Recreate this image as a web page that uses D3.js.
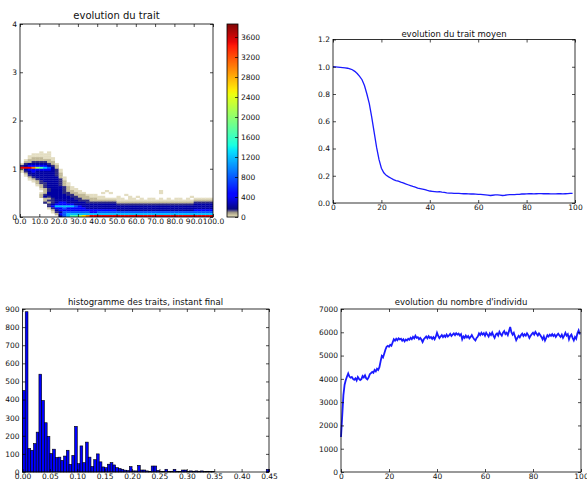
<!DOCTYPE html>
<html>
<head>
<meta charset="utf-8">
<script src="https://cdn.jsdelivr.net/npm/d3@7"></script>
<style>
  html, body { margin: 0; padding: 0; background: #fff; }
  svg text { font-family: "DejaVu Sans", sans-serif; }
</style>
</head>
<body>
<div id="chart"></div>
<script>
// ---- data ----

// heatmap: time bins of 2, trait bins of 0.04, rows listed top (1.32-1.36) to bottom (0-0.04)
const heatTimeStep = 2;
const heatTraitStep = 0.04;
const heatLevels = { a: 15, b: 60, c: 150, d: 240, e: 460, f: 800, g: 1200, h: 1700, i: 2100, j: 2600, k: 3000, l: 3500, m: 3850 };
const heatRows = [
    '.....a.a.. .......... .......... .......... ..........',
    '...aaaaa.. .......... .......... .......... ..........',
    '..aaaaaa.. .......... .......... .......... ..........',
    '..abbbaaa. .......... .......... .......... ..........',
    '.abbbbbba. .......... .......... .......... ..........',
    '.bbccccbb. .......... .......... .......... ..........',
    'acdddddcba .......... .......... .......... ..........',
    'cdeeeeedcb .......... .......... .......... ..........',
    'lllkihgfdb .......... .......... .......... ..........',
    'bdeeeeeedc a......... .......... .......... ..........',
    'acdedddddc a......... .......... .......... ..........',
    '.bdddddddc b......... .......... .......... ..........',
    '.acddddddc b......... .......... .......... ..........',
    '..bcdddddd ba........ .......... .......... ..........',
    '..abcddddd ca........ .......... .......... ..........',
    '...abcdddd cb........ .......... .......... ..........',
    '....bccddd cba....... .......... .......... ..........',
    '....abcddd cba....... .......... .......... ..........',
    '.....bcddd dcba...... .......... .......... ..........',
    '.....abcdd dcbaa..... .......... .......... ..........',
    '......bcdd dcbbaa.... ..a....... ......a... ..........',
    '.....abddd dccbbaa... .a.a...... ......a... ..........',
    '.....bcddd ddccbbbaaa .......a.. .......... ..........',
    '.....bdcdd dddccbbbaa aa...a..a. a......... ....a.....',
    '......bbcd ddddccbbbb aaaaaaa.aa .a.aa.a.a. aa.a.aaaaa',
    '......bccd dddddcccbb bbbbbaaaaa aaaaaaaaaa aaaaabbbbb',
    '......cbcd eedddddccc cccccbbbbb bbbbbbbbbb bbbbbccccc',
    '.......cde eeeedddddd dddddccccc cccccccccc cccccddddd',
    '.......ceg ggggfedddd dddddddddd dddddddddd dddddddddd',
    '.......ace efeeeeeddd dddddddddd dddddddddd dddddddddd',
    '........bd eeeeeeeeee eeeeeddddd dddddddddd dddddeeeee',
    '........ac dfffffffee ffffffffff ffffffffff ffffffffff',
    '.........b efgggggggg gggggggggg gggggggggg gggggggggg',
    '.......... dfghhijkll llllllllll llllllllll llllllllll'
];
const heatTicksX = [0, 10, 20, 30, 40, 50, 60, 70, 80, 90, 100];
const heatTicksY = [0, 1, 2, 3, 4];
const colorbarTicks = [0, 400, 800, 1200, 1600, 2000, 2400, 2800, 3200, 3600];
const colorbarMax = 3860;

// mean trait, one value per time unit (t = 0..99)
const traitStep = 1;
const traitMean = [
    1.000, 0.999, 0.998, 0.996, 0.994, 0.992, 0.989, 0.984, 0.978, 0.966,
    0.950, 0.930, 0.905, 0.862, 0.800, 0.730, 0.630, 0.520, 0.410, 0.320,
    0.255, 0.222, 0.203, 0.192, 0.182, 0.172, 0.165, 0.160, 0.153, 0.148,
    0.140, 0.134, 0.128, 0.122, 0.117, 0.110, 0.106, 0.102, 0.098, 0.092,
    0.088, 0.086, 0.084, 0.082, 0.083, 0.080, 0.078, 0.075, 0.073, 0.072,
    0.071, 0.070, 0.070, 0.069, 0.068, 0.068, 0.067, 0.066, 0.066, 0.065,
    0.064, 0.063, 0.062, 0.060, 0.058, 0.055, 0.057, 0.059, 0.060, 0.058,
    0.055, 0.057, 0.060, 0.061, 0.062, 0.062, 0.063, 0.064, 0.066, 0.066,
    0.067, 0.068, 0.068, 0.067, 0.068, 0.069, 0.069, 0.068, 0.069, 0.068,
    0.067, 0.067, 0.067, 0.068, 0.068, 0.067, 0.068, 0.069, 0.070, 0.071
];
const traitTicksX = [0, 20, 40, 60, 80, 100];
const traitTicksY = [0, 0.2, 0.4, 0.6, 0.8, 1.0, 1.2];

// final trait histogram, bins of 0.005 from 0 to 0.45
const histBinWidth = 0.005;
const histCounts = [
    450, 885, 130, 120, 157, 220, 540, 395, 272, 197,
    102, 126, 80, 82, 64, 88, 120, 42, 92, 252,
    46, 144, 52, 165, 82, 30, 68, 100, 56, 28,
    24, 43, 52, 39, 24, 19, 15, 10, 8, 30,
    6, 6, 37, 11, 11, 6, 4, 33, 33, 9,
    4, 2, 15, 2, 4, 15, 4, 2, 11, 11,
    4, 6, 4, 6, 4, 6, 2, 4, 2, 2,
    0, 0, 0, 0, 0, 0, 0, 0, 0, 0,
    0, 0, 0, 0, 0, 0, 0, 0, 0, 15
];
const histTicksX = [0, 0.05, 0.10, 0.15, 0.20, 0.25, 0.30, 0.35, 0.40, 0.45];
const histTicksY = [0, 100, 200, 300, 400, 500, 600, 700, 800, 900];

// population size, every half time unit (t = 0..99.5)
const popStep = 0.5;
const popValues = [
    1500, 2400, 3300, 3750, 3950, 4100, 4230, 4100, 4050, 4080,
    4000, 3960, 4020, 3930, 4080, 4000, 3950, 3990, 4120, 4060,
    4150, 4020, 3980, 4060, 4200, 4250, 4300, 4260, 4380, 4320,
    4430, 4380, 4500, 4750, 4980, 4920, 5080, 5250, 5380, 5420,
    5380, 5460, 5420, 5560, 5700, 5640, 5720, 5660, 5740, 5690,
    5720, 5640, 5700, 5610, 5690, 5650, 5720, 5680, 5760, 5700,
    5800, 5740, 5850, 5760, 5790, 5700, 5760, 5690, 5580, 5700,
    5760, 5820, 5740, 5830, 5760, 5800, 5720, 5790, 5700, 5810,
    5980, 5850, 5750, 5820, 5880, 5790, 5860, 5800, 5900, 5820,
    5870, 5930, 5840, 5900, 5950, 5880, 5960, 5900, 5940, 5860,
    5920, 5700, 5820, 5760, 5860, 5780, 5840, 5740, 5800, 5880,
    5780, 5700, 5650, 5760, 5820, 5950, 5880, 5980, 5900, 5960,
    5850, 5980, 5900, 5820, 5950, 5880, 5990, 5860, 5760, 5900,
    5950, 5860, 6020, 5920, 5850, 5980, 6050, 5920, 5980, 5880,
    6050, 6230, 6000, 5900, 5980, 5820, 5660, 5760, 5850, 5780,
    5880, 5940, 5840, 5920, 5860, 5960, 5880, 5760, 5850, 5920,
    5980, 5900, 6020, 5940, 5860, 5950, 5880, 5800, 5700, 5820,
    5650, 5760, 5880, 5820, 5900, 5850, 5920, 5840, 5900, 5800,
    5880, 5940, 5860, 5800, 5900, 5760, 5860, 5980, 5860, 5920,
    5700, 5840, 5900, 5760, 5650, 5800, 5720, 5960, 6080, 5900
];
const popTicksX = [0, 20, 40, 60, 80, 100];
const popTicksY = [0, 1000, 2000, 3000, 4000, 5000, 6000, 7000];

// ---- drawing ----
const width = 587;
const height = 480;
const FONT = '"DejaVu Sans", sans-serif';

const svg = d3.select('#chart')
    .append('svg')
    .attr('width', width)
    .attr('height', height);

svg.append('rect').attr('width', width).attr('height', height).attr('fill', '#fff');

// box with inward ticks on all four sides, labels left and bottom
function drawFrame(g, x, y, xTicks, yTicks, xFmt, yFmt) {
    const [x0, x1] = x.range();
    const [y0, y1] = y.range();

    g.append('g')
        .attr('transform', `translate(0,${y0})`)
        .call(d3.axisBottom(x).tickValues(xTicks).tickFormat(xFmt)
            .tickSizeInner(-3).tickSizeOuter(0).tickPadding(2));
    g.append('g')
        .attr('transform', `translate(0,${y1})`)
        .call(d3.axisTop(x).tickValues(xTicks).tickFormat('')
            .tickSizeInner(-3).tickSizeOuter(0));
    g.append('g')
        .attr('transform', `translate(${x0},0)`)
        .call(d3.axisLeft(y).tickValues(yTicks).tickFormat(yFmt)
            .tickSizeInner(-3).tickSizeOuter(0).tickPadding(3));
    g.append('g')
        .attr('transform', `translate(${x1},0)`)
        .call(d3.axisRight(y).tickValues(yTicks).tickFormat('')
            .tickSizeInner(-3).tickSizeOuter(0));

    g.selectAll('.domain').remove();
    g.selectAll('.tick line').attr('stroke', '#000').attr('stroke-width', 0.7);
    g.selectAll('.tick text')
        .attr('font-size', 7.5)
        .attr('font-family', FONT)
        .attr('fill', '#111');

    g.append('rect')
        .attr('x', x0)
        .attr('y', y1)
        .attr('width', x1 - x0)
        .attr('height', y0 - y1)
        .attr('fill', 'none')
        .attr('stroke', '#000')
        .attr('stroke-width', 0.8);
}

function drawTitle(g, x, y, label, size) {
    g.append('text')
        .attr('x', x)
        .attr('y', y)
        .attr('text-anchor', 'middle')
        .attr('font-size', size)
        .attr('font-family', FONT)
        .attr('fill', '#111')
        .text(label);
}

// jet colormap with a khaki foot for the low counts
const heatStops = [0, 40, 100, 170, 425, 482, 1312, 1351, 1448, 1930, 2470, 2510, 2548, 3435, 3512, colorbarMax];
const heatColors = ['#ece8d4', '#d3cba2', '#9c9585', '#000080', '#0000ff', '#0000ff', '#00dbff', '#00e6fa',
    '#14ffe0', '#7bff7b', '#eeff08', '#f7f500', '#ffec00', '#ff1300', '#e80000', '#800000'];
const heatColor = d3.scaleLinear()
    .domain(heatStops)
    .range(heatColors)
    .interpolate(d3.interpolateRgb)
    .clamp(true);

// ---- panel 1 : evolution du trait ----
function drawHeatmap() {
    const g = svg.append('g');
    const x = d3.scaleLinear().domain([0, 100]).range([20, 213]);
    const y = d3.scaleLinear().domain([0, 4]).range([217, 24]);

    const defs = svg.append('defs');
    defs.append('clipPath').attr('id', 'heat-clip')
        .append('rect').attr('x', 20).attr('y', 24).attr('width', 193).attr('height', 193);
    defs.append('filter').attr('id', 'soft')
        .attr('x', '-5%').attr('y', '-5%').attr('width', '110%').attr('height', '110%')
        .append('feGaussianBlur').attr('stdDeviation', 0.7);

    const cells = [];
    heatRows.forEach((row, i) => {
        const r = heatRows.length - 1 - i;
        row.replace(/ /g, '').split('').forEach((ch, c) => {
            if (heatLevels[ch]) cells.push({ c, r, v: heatLevels[ch] });
        });
    });

    g.append('g')
        .attr('clip-path', 'url(#heat-clip)')
        .append('g')
        .attr('filter', 'url(#soft)')
        .selectAll('rect')
        .data(cells)
        .join('rect')
        .attr('x', d => x(d.c * heatTimeStep))
        .attr('y', d => y((d.r + 1) * heatTraitStep))
        .attr('width', d => x((d.c + 1) * heatTimeStep) - x(d.c * heatTimeStep) + 0.3)
        .attr('height', d => y(d.r * heatTraitStep) - y((d.r + 1) * heatTraitStep) + 0.3)
        .attr('fill', d => heatColor(d.v));

    drawFrame(g, x, y, heatTicksX, heatTicksY, d3.format('.1f'), d3.format('d'));
    drawTitle(g, 116.5, 19, 'evolution du trait', 10);

    // colorbar
    const cb = d3.scaleLinear().domain([0, colorbarMax]).range([217, 24]);
    const cbG = svg.append('g');
    const steps = d3.range(0, colorbarMax, 10);
    cbG.selectAll('rect.strip')
        .data(steps)
        .join('rect')
        .attr('class', 'strip')
        .attr('x', 227)
        .attr('y', d => cb(Math.min(d + 10, colorbarMax)))
        .attr('width', 11)
        .attr('height', d => cb(d) - cb(Math.min(d + 10, colorbarMax)) + 0.4)
        .attr('fill', d => heatColor(d + 5));

    cbG.append('g')
        .attr('transform', 'translate(238,0)')
        .call(d3.axisRight(cb).tickValues(colorbarTicks).tickFormat(d3.format('d'))
            .tickSizeInner(-3).tickSizeOuter(0).tickPadding(3));
    cbG.selectAll('.domain').remove();
    cbG.selectAll('.tick line').attr('stroke', '#000').attr('stroke-width', 0.7);
    cbG.selectAll('.tick text').attr('font-size', 7.5).attr('font-family', FONT).attr('fill', '#111');
    cbG.append('rect')
        .attr('x', 227).attr('y', 24).attr('width', 11).attr('height', 193)
        .attr('fill', 'none').attr('stroke', '#000').attr('stroke-width', 0.8);
}

// ---- panel 2 : evolution du trait moyen ----
function drawTraitMean() {
    const g = svg.append('g');
    const x = d3.scaleLinear().domain([0, 100]).range([333, 575]);
    const y = d3.scaleLinear().domain([0, 1.2]).range([203, 39.5]);

    const line = d3.line()
        .x((d, i) => x(i * traitStep))
        .y(d => y(d));

    g.append('path')
        .datum(traitMean)
        .attr('d', line)
        .attr('fill', 'none')
        .attr('stroke', '#1a1aff')
        .attr('stroke-width', 1.3);

    drawFrame(g, x, y, traitTicksX, traitTicksY, d3.format('d'), d3.format('.1f'));
    drawTitle(g, 454, 36.5, 'evolution du trait moyen', 8.5);
}

// ---- panel 3 : histogramme ----
function drawHistogram() {
    const g = svg.append('g');
    const x = d3.scaleLinear().domain([0, 0.45]).range([22.5, 269]);
    const y = d3.scaleLinear().domain([0, 900]).range([472, 309]);

    g.append('g')
        .selectAll('rect')
        .data(histCounts.map((v, i) => ({ i, v })).filter(d => d.v > 0))
        .join('rect')
        .attr('x', d => x(d.i * histBinWidth))
        .attr('y', d => y(d.v))
        .attr('width', d => x((d.i + 1) * histBinWidth) - x(d.i * histBinWidth))
        .attr('height', d => y(0) - y(d.v))
        .attr('fill', '#0000ff')
        .attr('stroke', '#000')
        .attr('stroke-width', 0.6);

    drawFrame(g, x, y, histTicksX, histTicksY, d3.format('.2f'), d3.format('d'));
    drawTitle(g, 145.5, 305, 'histogramme des traits, instant final', 8.5);
}

// ---- panel 4 : evolution du nombre d'individu ----
function drawPopulation() {
    const g = svg.append('g');
    const x = d3.scaleLinear().domain([0, 100]).range([341, 581]);
    const y = d3.scaleLinear().domain([0, 7000]).range([472, 309]);

    const line = d3.line()
        .x((d, i) => x(i * popStep))
        .y(d => y(d));

    g.append('path')
        .datum(popValues)
        .attr('d', line)
        .attr('fill', 'none')
        .attr('stroke', '#1a1aff')
        .attr('stroke-width', 1.8);

    drawFrame(g, x, y, popTicksX, popTicksY, d3.format('d'), d3.format('d'));
    drawTitle(g, 461, 305, "evolution du nombre d'individu", 8.5);
}

drawHeatmap();
drawTraitMean();
drawHistogram();
drawPopulation();
</script>
</body>
</html>
